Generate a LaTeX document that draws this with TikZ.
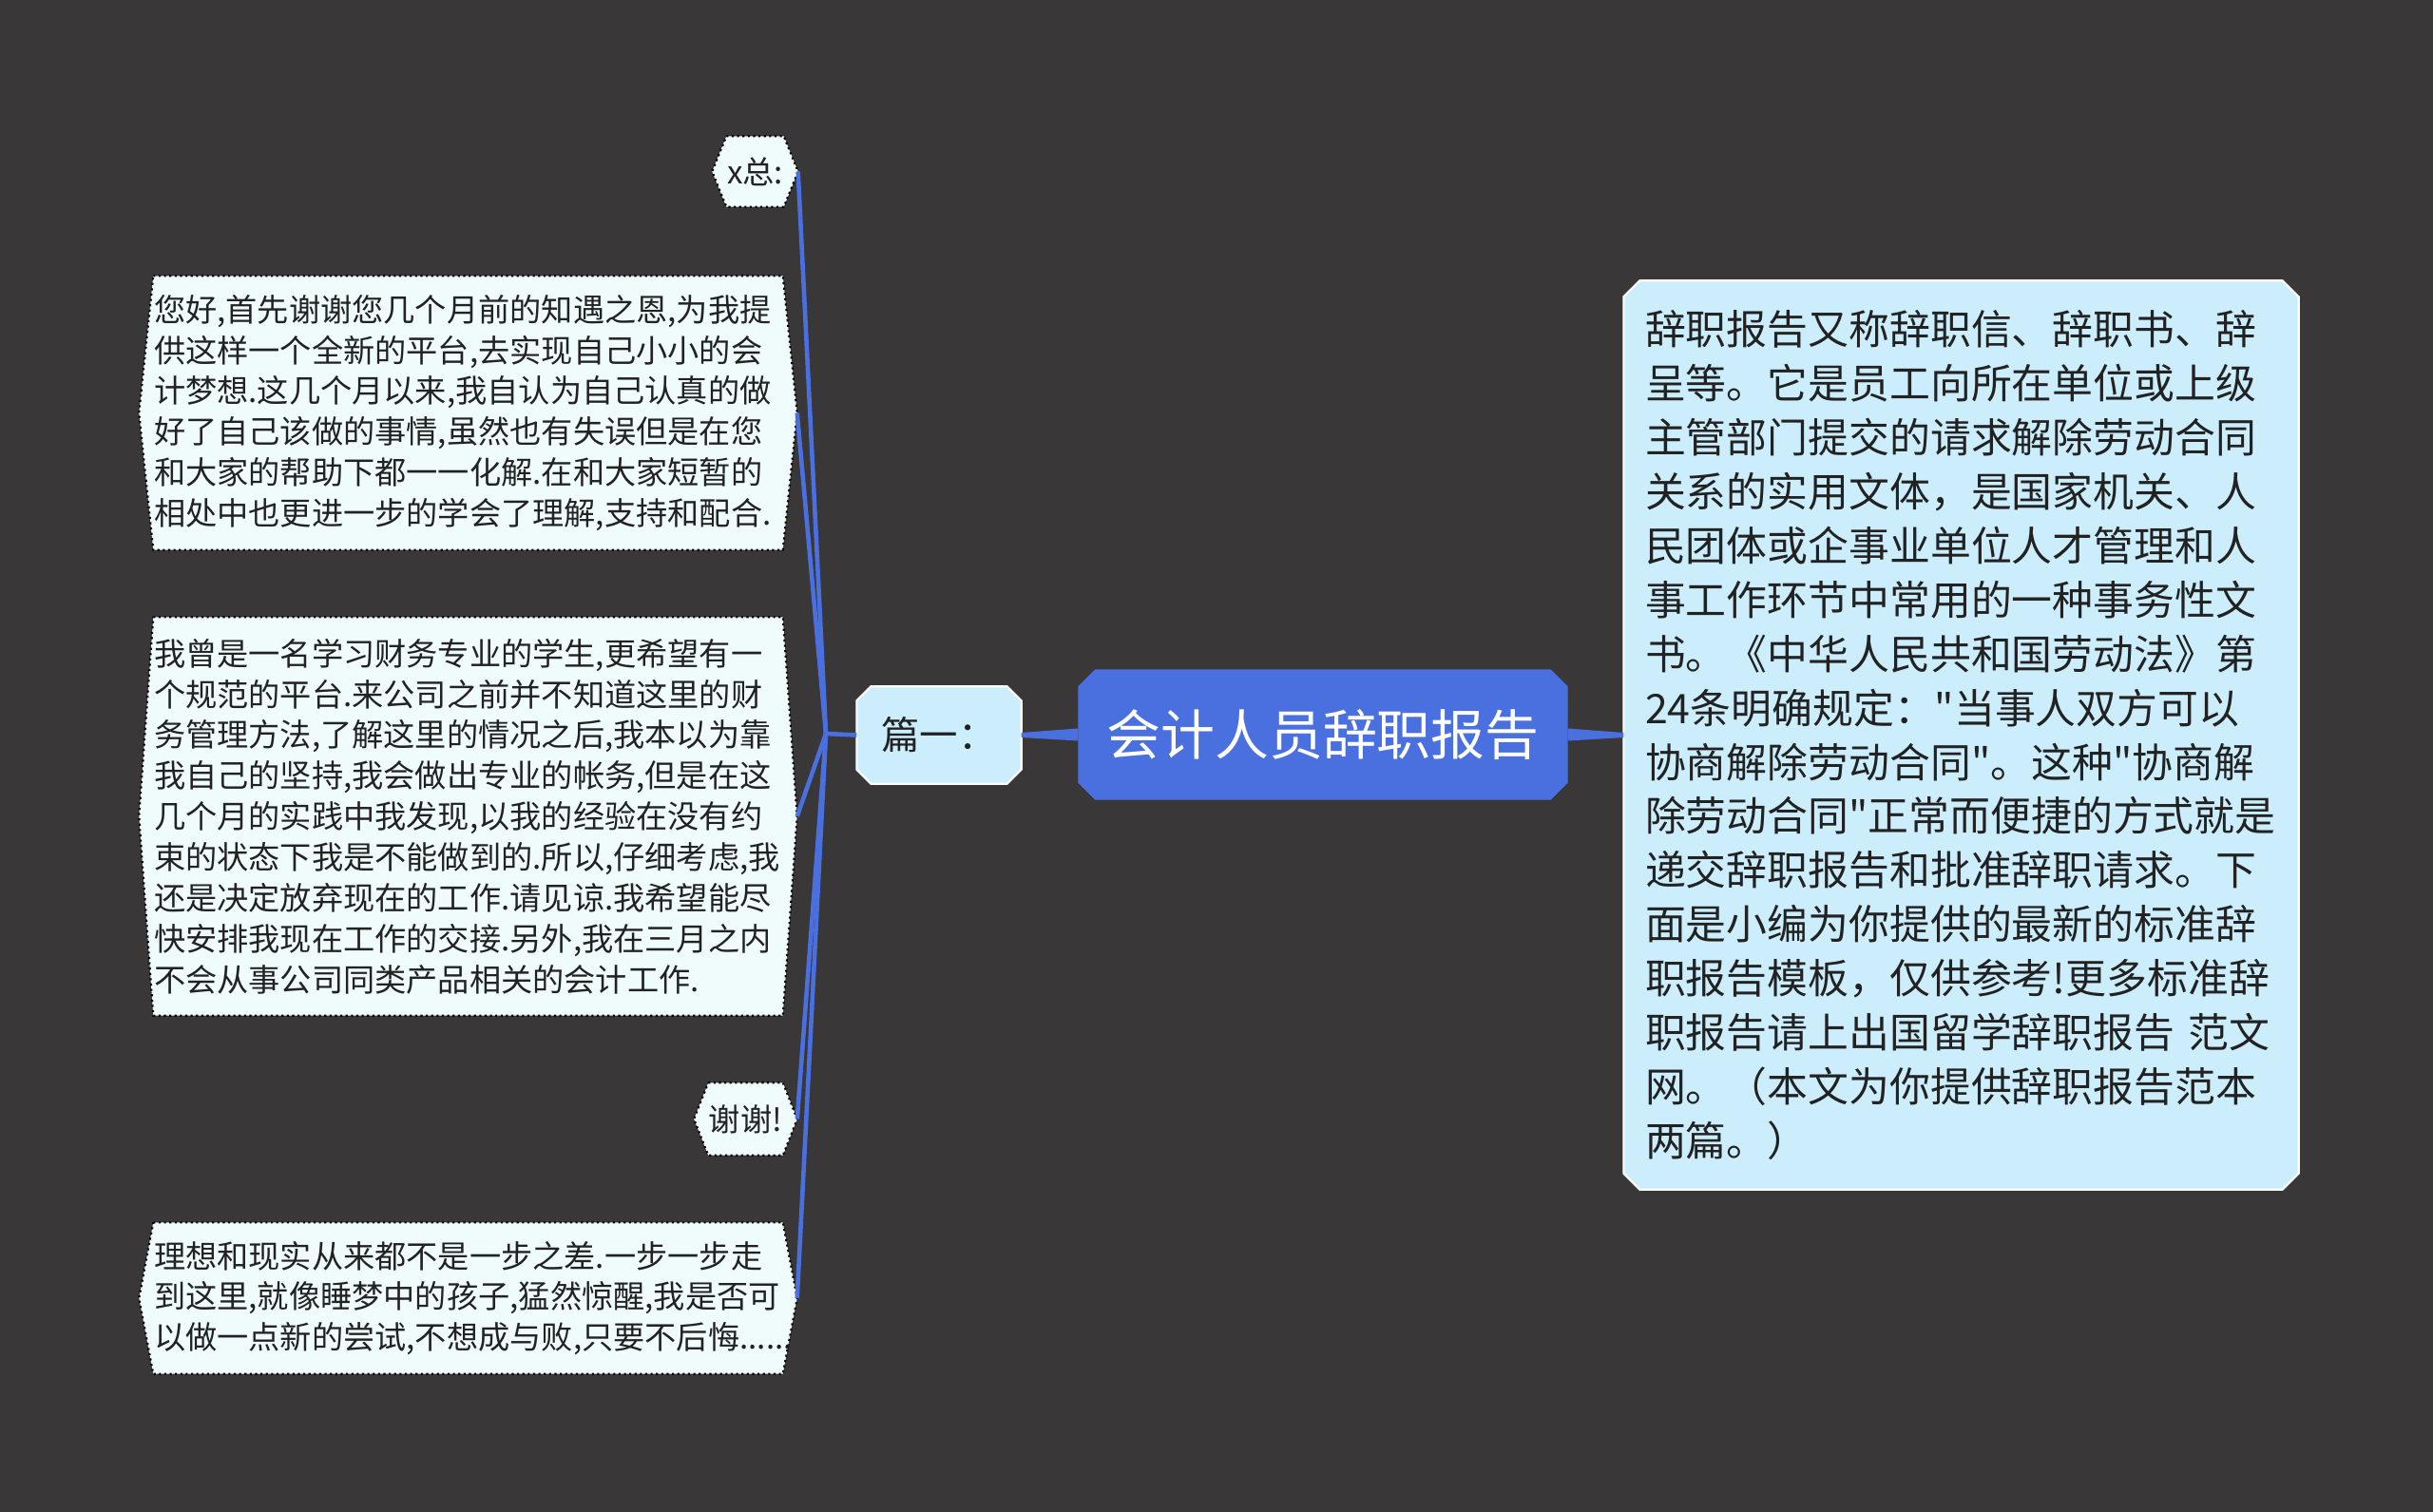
\documentclass[tikz,border=0pt]{standalone}
\usepackage{fontspec}
\setmainfont{Noto Sans CJK SC}
\usetikzlibrary{backgrounds}

\definecolor{bgdark}{RGB}{57,55,56}
\definecolor{rootblue}{RGB}{74,112,224}
\definecolor{topicblue}{RGB}{204,238,252}
\definecolor{leaffill}{RGB}{240,252,252}
\definecolor{inktext}{RGB}{34,34,34}

% chamfered outline behind a node: node, cut, style
\newcommand\chamferbox[3]{%
  \path[#3] ([xshift=#2]#1.north west) -- ([xshift=-#2]#1.north east)
    -- ([yshift=-#2]#1.north east) -- ([yshift=#2]#1.south east)
    -- ([xshift=-#2]#1.south east) -- ([xshift=#2]#1.south west)
    -- ([yshift=#2]#1.south west) -- ([yshift=-#2]#1.north west) -- cycle;}

\tikzset{
  rootbox/.style={inner sep=0pt, minimum width=5.14cm, minimum height=1.36cm, text=white,
    font=\fontsize{16.2pt}{18pt}\selectfont},
  topicbox/.style={inner sep=0pt, text=inktext, font=\fontsize{11.5pt}{13pt}\selectfont},
  notebox/.style={inner xsep=0.22cm, inner ysep=0pt, text width=6.65cm,
    align=left, minimum height=9.55cm, text=inktext,
    font=\fontsize{12.2pt}{16.2pt}\selectfont},
  leaf/.style={inner sep=0pt, text=inktext, font=\fontsize{9.45pt}{12.2pt}\selectfont},
  para/.style={leaf, text width=6.61cm, align=left},
  leafshape/.style={fill=leaffill, draw=black, densely dotted, line width=0.6pt},
  lightshape/.style={fill=topicblue, draw=white, line width=0.6pt},
  branch/.style={draw=rootblue, line width=1.3pt}
}

\begin{document}
\begin{tikzpicture}
  \def\tip{0.15cm}

  % Canvas
  \begin{scope}[on background layer]
    \fill[bgdark] (0,0) rectangle (25.6,-15.91);
  \end{scope}
  \useasboundingbox (0,0) rectangle (25.6,-15.91);

  % Root, topic and note
  \node[rootbox] (root) at (13.92,-7.73) {会计人员辞职报告};
  \node[topicbox, minimum width=1.72cm, minimum height=1.01cm] (part1) at (9.88,-7.735) {篇一：};
  \node[notebox] (intro) at (20.635,-7.735) {辞职报告又称辞职信、辞职书、辞\\
    呈等。它是员工向所在单位或上级\\
    主管部门提交的请求解除劳动合同\\
    关系的实用文体，是国家机关、人\\
    民团体或企事业单位人才管理和人\\
    事工作环节中常用的一种事务性文\\
    书。《中华人民共和国劳动法》第\\
    24条明确规定：\textquotedbl 当事人双方可以\\
    协商解除劳动合同\textquotedbl 。这种\textquotedbl 协商解\\
    除劳动合同\textquotedbl 正常而便捷的方式就是\\
    递交辞职报告和批准辞职请求。下\\
    面是小编为你提供的最新的标准辞\\
    职报告模板，仅供参考!更多标准辞\\
    职报告请上出国留学辞职报告 范文\\
    网。（本文为你提供辞职报告范本\\
    两篇。）};

  % Leaves of part one
  \node[leaf, minimum width=0.57cm, minimum height=0.73cm] (boss) at (7.945,-1.805) {x总:};
  \node[para, minimum height=2.87cm] (para1) at (4.925,-4.345) {您好,首先谢谢您几个月前的知遇之恩,为我提\\
    供这样一个全新的平台,去实现自己小小的会\\
    计梦想.这几个月以来,我自认为自己认真的做\\
    好了自己该做的事情,虽然也有失误但是在您\\
    和大家的帮助下都一一化解.在和大家短暂的\\
    相处中也更进一步的学会了理解,支持和配合.};
  \node[para, minimum height=4.18cm] (para2) at (4.925,-8.59) {我曾是一名学习财务专业的学生,更希望有一\\
    个规范的平台.来公司之前并不知道这里的财\\
    务管理方法,了解这里的情况之后,我本以为靠\\
    我自己的坚持,我会做出专业的帐务,但是在这\\
    几个月的实践中我发现,以我的经验在没有约\\
    束的状态下我是不能做到的.所以,仔细考虑,我\\
    还是决定放弃现在的工作.请见谅.我希望能尽\\
    快安排我现在工作的交接.另外,我在三月之内\\
    不会从事公司同类产品相关的会计工作.};
  \node[leaf, minimum width=0.77cm, minimum height=0.75cm] (thanks) at (7.845,-11.775) {谢谢!};
  \node[para, minimum height=1.58cm] (para3) at (4.925,-13.66) {理想和现实从来都不是一步之差.一步一步走\\
    到这里,就像睡梦中的孩子,猛然惊醒,我是否可\\
    以做一点新的尝试,不想成与败,只要不后悔......};

  % Box outlines
  \begin{scope}[on background layer]
    \chamferbox{root}{0.18cm}{fill=rootblue}
    \chamferbox{part1}{0.15cm}{lightshape}
    \chamferbox{intro}{0.17cm}{lightshape}
    \foreach \n in {boss,para1,para2,thanks,para3}
      \path[leafshape] (\n.north west) -- (\n.north east) -- ([xshift=\tip]\n.east)
        -- (\n.south east) -- (\n.south west) -- ([xshift=-\tip]\n.west) -- cycle;
  \end{scope}

  % Tapered links from the root
  \fill[rootblue] ([yshift=0.065cm]root.west) -- ([yshift=0.025cm]part1.east)
    -- ([yshift=-0.025cm]part1.east) -- ([yshift=-0.065cm]root.west) -- cycle;
  \fill[rootblue] ([yshift=0.065cm]root.east) -- ([yshift=0.025cm]intro.west)
    -- ([yshift=-0.025cm]intro.west) -- ([yshift=-0.065cm]root.east) -- cycle;

  % Branches to the leaves
  \coordinate (fork) at (8.69,-7.72);
  \draw[branch] (part1.west) -- (fork);
  \foreach \n in {boss,para1,para2,thanks,para3}
    \draw[branch] (fork) -- ([xshift=\tip]\n.east);
\end{tikzpicture}
\end{document}
